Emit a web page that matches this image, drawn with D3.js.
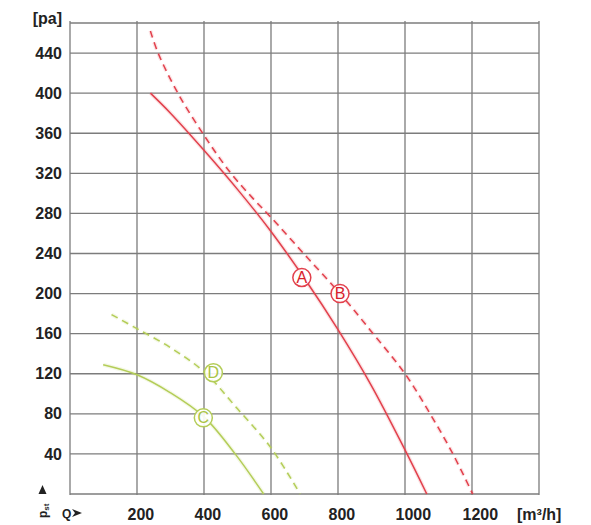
<!DOCTYPE html>
<html>
<head>
<meta charset="utf-8">
<script src="https://cdn.jsdelivr.net/npm/d3@7"></script>
<style>
  html, body { margin: 0; padding: 0; background: #ffffff; }
  svg { display: block; }
  text { font-family: "Liberation Sans", Arial, Helvetica, sans-serif; }
</style>
</head>
<body>
<div id="chart"></div>
<script>
// ---- data ----
const xTicks = [200, 400, 600, 800, 1000, 1200];
const xGrid = [0, 200, 400, 600, 800, 1000, 1200, 1400];
const yTicks = [40, 80, 120, 160, 200, 240, 280, 320, 360, 400, 440];

const qA = [240, 300, 400, 500, 600, 700, 800, 900, 1000, 1065];
const pA = [400, 380, 343, 304, 262, 215, 164, 108, 44, 0];

const qB = [240, 263, 322, 400, 478, 546, 600, 700, 806, 900, 1000, 1075, 1143, 1202];
const pB = [462, 440, 400, 358, 321, 295, 276, 239, 200, 162, 120, 80, 40, 0];

const qC = [99, 200, 300, 400, 493, 578];
const pC = [129, 119, 101, 77, 40, 0];

const qD = [124, 200, 300, 400, 500, 600, 687];
const pD = [179, 165, 146, 122, 85, 46, 0];

const markerLabels = ["A", "B", "C", "D"];
const markerQ = [692, 806, 398, 428];
const markerP = [216, 200, 76, 121];
const markerSeries = ["red", "red", "green", "green"];

// ---- drawing ----
const W = 591, H = 525;
const RED = "#e2404c", GREEN = "#b4cd58", GRID = "#7c7c7c", TXT = "#222222";

const svg = d3.select("#chart").append("svg").attr("width", W).attr("height", H);

const x = d3.scaleLinear().domain([0, 1400]).range([70, 539]);
const y = d3.scaleLinear().domain([0, 470]).range([494, 23]);

// grid
const g = svg.append("g");
g.selectAll("line.v").data(xGrid).enter().append("line")
  .attr("x1", d => x(d)).attr("x2", d => x(d))
  .attr("y1", y(470) - 2).attr("y2", y(0) + 1)
  .attr("stroke", GRID).attr("stroke-width", 1.3);
g.selectAll("line.h").data([0].concat(yTicks, [470])).enter().append("line")
  .attr("x1", x(0)).attr("x2", x(1400))
  .attr("y1", d => y(d)).attr("y2", d => y(d))
  .attr("stroke", GRID).attr("stroke-width", 1.3);

// y axis labels
const yAxis = d3.axisLeft(y).tickValues(yTicks).tickSize(0).tickPadding(8).tickFormat(d3.format("d"));
const ya = svg.append("g").attr("transform", `translate(${x(0)},0)`).call(yAxis);
ya.select(".domain").remove();
ya.selectAll("text").attr("font-size", 16).attr("font-weight", "bold")
  .attr("fill", TXT).attr("font-family", "Liberation Sans, Arial, sans-serif");

svg.append("text").attr("x", 62).attr("y", 24).attr("text-anchor", "end")
  .attr("font-size", 16).attr("font-weight", "bold").attr("fill", TXT).text("[pa]");

// x axis labels
const xAxis = d3.axisBottom(x).tickValues(xTicks).tickSize(0).tickPadding(0).tickFormat(d3.format("d"));
const xa = svg.append("g").attr("transform", `translate(0,${y(0)})`).call(xAxis);
xa.select(".domain").remove();
xa.selectAll("text").attr("font-size", 16).attr("font-weight", "bold")
  .attr("fill", TXT).attr("text-anchor", "start").attr("dx", -10)
  .attr("dy", 0).attr("y", 26)
  .attr("font-family", "Liberation Sans, Arial, sans-serif");

svg.append("text").attr("x", 517).attr("y", 520)
  .attr("font-size", 16).attr("font-weight", "bold").attr("fill", TXT)
  .text("[m³/h]");

// Q arrow
svg.append("text").attr("x", 62).attr("y", 518)
  .attr("font-size", 12).attr("font-weight", "bold").attr("fill", TXT).text("Q");
svg.append("path").attr("d", "M72,509 L82,513 L72,517 L75,513 Z").attr("fill", TXT);

// p_st vertical
const pst = svg.append("text").attr("transform", "translate(47,518) rotate(-90)")
  .attr("font-size", 12).attr("font-weight", "bold").attr("fill", TXT);
pst.append("tspan").text("p");
pst.append("tspan").attr("font-size", 8).attr("dy", 2).text("st");
svg.append("path").attr("d", "M42.5,485 L46.5,494 L38.5,494 Z").attr("fill", TXT);

// curves
const line = d3.line().x(d => x(d[0])).y(d => y(d[1])).curve(d3.curveCatmullRom.alpha(0.5));
const zip = (a, b) => a.map((v, i) => [v, b[i]]);
const series = [
  { pts: zip(qA, pA), color: RED, dash: null },
  { pts: zip(qB, pB), color: RED, dash: "7,5" },
  { pts: zip(qC, pC), color: GREEN, dash: null },
  { pts: zip(qD, pD), color: GREEN, dash: "7,5" }
];
series.forEach(s => {
  svg.append("path").attr("d", line(s.pts)).attr("fill", "none")
    .attr("stroke", s.color).attr("stroke-opacity", 0.15).attr("stroke-width", 4)
    .attr("stroke-dasharray", s.dash);
  svg.append("path").attr("d", line(s.pts)).attr("fill", "none")
    .attr("stroke", s.color).attr("stroke-width", 1.5)
    .attr("stroke-dasharray", s.dash);
});

// markers
const mk = svg.selectAll("g.mk").data(markerLabels).enter().append("g")
  .attr("transform", (d, i) => `translate(${x(markerQ[i])},${y(markerP[i])})`);
mk.append("circle").attr("r", 9).attr("fill", "#ffffff").attr("fill-opacity", 0.9)
  .attr("stroke", (d, i) => markerSeries[i] === "red" ? RED : GREEN)
  .attr("stroke-width", 1.5);
mk.append("text").attr("text-anchor", "middle").attr("y", 5.5)
  .attr("font-family", "Liberation Serif, Times New Roman, serif")
  .attr("font-size", 16)
  .attr("fill", (d, i) => markerSeries[i] === "red" ? "#d8202c" : "#a9c445")
  .text(d => d);
</script>
</body>
</html>
